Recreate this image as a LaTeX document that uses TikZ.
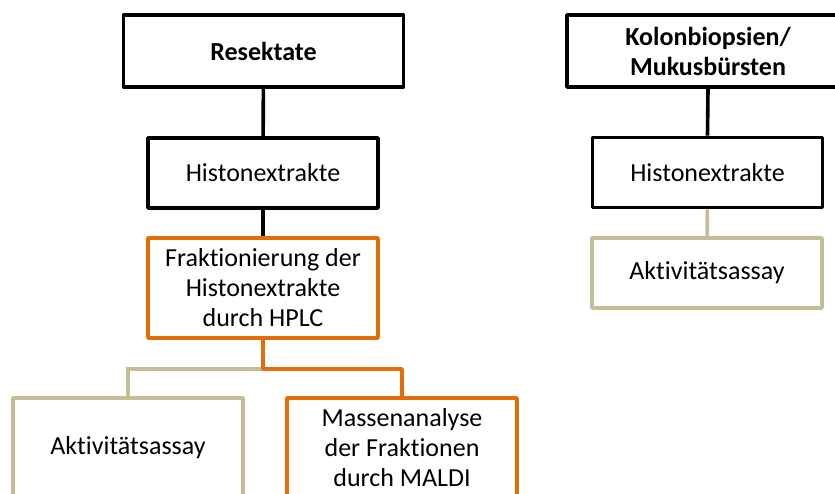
\documentclass[tikz,border=0pt]{standalone}
\usepackage{fontspec}
\setmainfont{Carlito}[Ligatures=NoCommon]
\definecolor{orng}{HTML}{E46C0A}
\definecolor{beig}{HTML}{C4BD97}
\begin{document}
\begin{tikzpicture}[x=1pt,y=-1pt,
  box/.style={draw=black,line width=3.6pt,line join=round,fill=white,align=center,
    font=\fontsize{26}{30}\selectfont,inner sep=0pt},
  obox/.style={box,draw=orng},
  bbox/.style={box,draw=beig},
  conn/.style={line width=3.6pt},
]
\useasboundingbox (0,0) rectangle (835,493);
\node[box,minimum width=280,minimum height=72,font=\fontsize{26}{30}\selectfont\bfseries] (res) at (263.5,51) {Resektate};
\node[box,minimum width=230,minimum height=70] (his1) at (263,173) {Histonextrakte};
\node[obox,minimum width=230,minimum height=100] (frak) at (263,288) {Fraktionierung der\\Histonextrakte\\durch HPLC};
\node[bbox,minimum width=230,minimum height=100] (akt1) at (128,448) {Aktivitätsassay};
\node[obox,minimum width=230,minimum height=100] (mass) at (402,448) {Massenanalyse\\der Fraktionen\\durch MALDI};
\node[box,minimum width=282,minimum height=72,font=\fontsize{26}{30}\selectfont\bfseries] (kol) at (708,51) {Kolonbiopsien/\\Mukusbürsten};
\node[box,minimum width=230,minimum height=70] (his2) at (707.5,172.5) {Histonextrakte};
\node[bbox,minimum width=230,minimum height=70] (akt2) at (707,273) {Aktivitätsassay};
\coordinate (split) at (263,369);
\draw[conn] (res) -- (his1);
\draw[conn] (his1) -- (frak);
\draw[conn] (kol.south) -- (his2.north);
\draw[conn,beig] (his2) -- (akt2);
\draw[conn,beig] (split) -| (akt1.north);
\draw[conn,orng,line join=round] (frak.south) -- (split) -| (mass.north);
\end{tikzpicture}
\end{document}
